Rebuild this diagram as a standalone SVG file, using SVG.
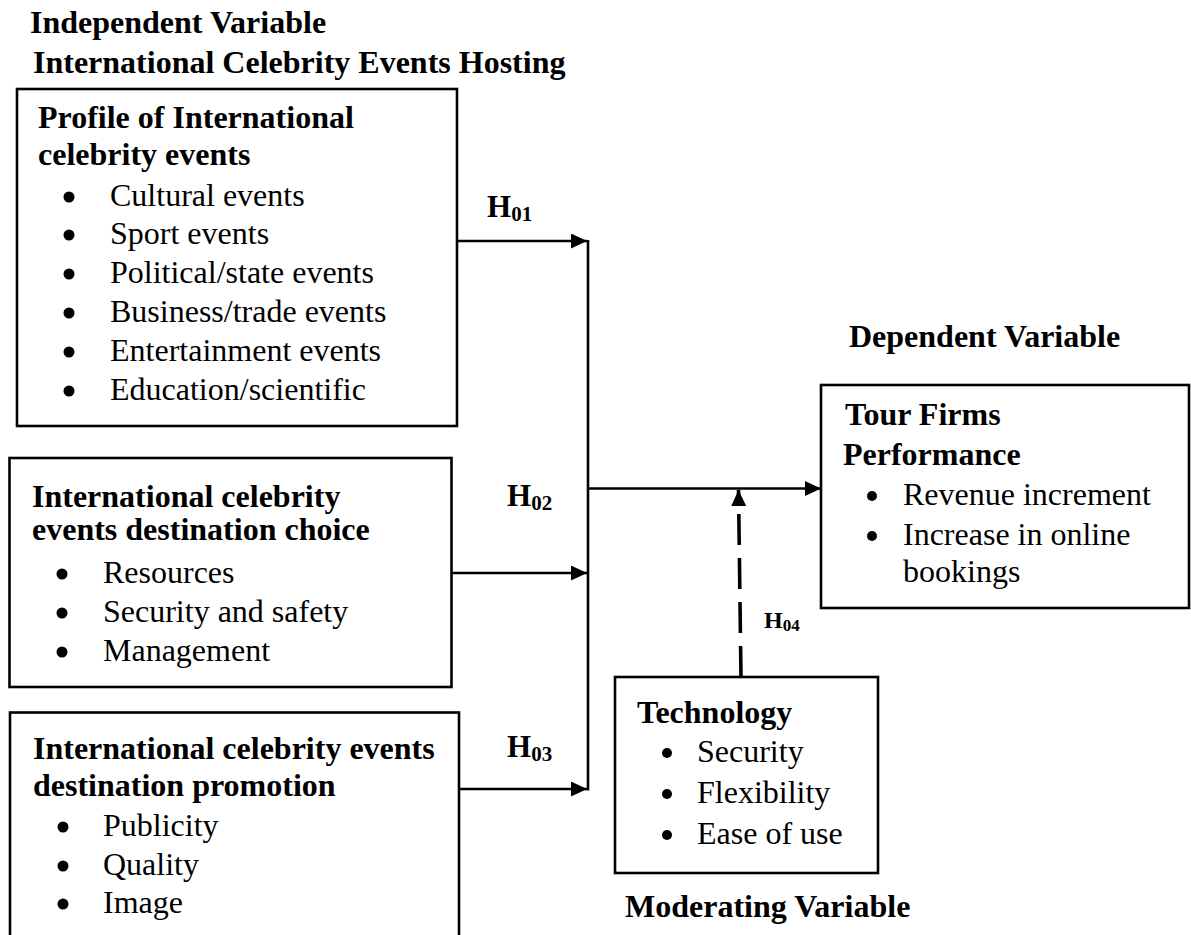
<svg xmlns="http://www.w3.org/2000/svg" width="1191" height="935" viewBox="0 0 1191 935">
<style>
text{font-family:"Liberation Serif","Times New Roman",serif;fill:#000;font-size:32px}
.b{font-weight:bold}
.box{fill:none;stroke:#000;stroke-width:2.6}
.ln{fill:none;stroke:#000;stroke-width:2.6}
.dash{fill:none;stroke:#000;stroke-width:3.6;stroke-dasharray:31 13}
.h{font-weight:bold;font-size:31px}
.h4{font-weight:bold;font-size:24px}
.dot{fill:#000}
</style>
<defs>
<marker id="arr" markerUnits="userSpaceOnUse" markerWidth="16" markerHeight="15" refX="16" refY="7.5" orient="auto">
<path d="M0,0 L16,7.5 L0,15 z" fill="#000"/>
</marker>
</defs>
<g id="headers">
<text class="b" x="30" y="33">Independent Variable</text>
<text class="b" x="33" y="73">International Celebrity Events Hosting</text>
<text class="b" x="849" y="347">Dependent Variable</text>
<text class="b" x="625" y="917">Moderating Variable</text>
</g>
<g id="profile">
<rect class="box" x="17" y="89" width="440" height="337"/>
<text class="b" x="38" y="128">Profile of International</text>
<text class="b" x="38" y="165">celebrity events</text>
<circle class="dot" cx="69" cy="197" r="5.5"/><text x="110" y="206">Cultural events</text>
<circle class="dot" cx="69" cy="235" r="5.5"/><text x="110" y="244">Sport events</text>
<circle class="dot" cx="69" cy="274" r="5.5"/><text x="110" y="283">Political/state events</text>
<circle class="dot" cx="69" cy="313" r="5.5"/><text x="110" y="322">Business/trade events</text>
<circle class="dot" cx="69" cy="352" r="5.5"/><text x="110" y="361">Entertainment events</text>
<circle class="dot" cx="69" cy="391" r="5.5"/><text x="110" y="400">Education/scientific</text>
</g>
<g id="choice">
<rect class="box" x="9.5" y="458" width="442" height="229"/>
<text class="b" x="32" y="507">International celebrity</text>
<text class="b" x="32" y="540">events destination choice</text>
<circle class="dot" cx="62" cy="574" r="5.5"/><text x="103" y="583">Resources</text>
<circle class="dot" cx="62" cy="613" r="5.5"/><text x="103" y="622">Security and safety</text>
<circle class="dot" cx="62" cy="652" r="5.5"/><text x="103" y="661">Management</text>
</g>
<g id="promotion">
<rect class="box" x="10" y="712.5" width="449" height="240"/>
<text class="b" x="33" y="759">International celebrity events</text>
<text class="b" x="33" y="796">destination promotion</text>
<circle class="dot" cx="63" cy="827" r="5.5"/><text x="103" y="836">Publicity</text>
<circle class="dot" cx="63" cy="866" r="5.5"/><text x="103" y="875">Quality</text>
<circle class="dot" cx="63" cy="904" r="5.5"/><text x="103" y="913">Image</text>
</g>
<g id="performance">
<rect class="box" x="821" y="385" width="368" height="223"/>
<text class="b" x="845" y="425">Tour Firms</text>
<text class="b" x="843" y="465">Performance</text>
<circle class="dot" cx="872" cy="496" r="5"/><text x="903" y="505">Revenue increment</text>
<circle class="dot" cx="872" cy="536" r="5"/><text x="903" y="545">Increase in online</text>
<text x="903" y="582">bookings</text>
</g>
<g id="technology">
<rect class="box" x="615" y="677" width="263" height="196"/>
<text class="b" x="637" y="723">Technology</text>
<circle class="dot" cx="667" cy="753" r="5"/><text x="697" y="762">Security</text>
<circle class="dot" cx="667" cy="794" r="5"/><text x="697" y="803">Flexibility</text>
<circle class="dot" cx="667" cy="835" r="5"/><text x="697" y="844">Ease of use</text>
</g>
<g id="connectors">
<line class="ln" x1="457" y1="241" x2="587" y2="241" marker-end="url(#arr)"/>
<line class="ln" x1="451" y1="573" x2="587" y2="573" marker-end="url(#arr)"/>
<line class="ln" x1="460" y1="789" x2="587" y2="789" marker-end="url(#arr)"/>
<line class="ln" x1="588" y1="240" x2="588" y2="790.5"/>
<line class="ln" x1="588" y1="488.5" x2="821" y2="488.5" marker-end="url(#arr)"/>
<path class="dash" d="M741,677 L738.5,490" marker-end="url(#arr)"/>
<text class="h" x="487" y="217">H<tspan font-size="21" dy="4">01</tspan></text>
<text class="h" x="507" y="506">H<tspan font-size="21" dy="4">02</tspan></text>
<text class="h" x="507" y="757">H<tspan font-size="21" dy="4">03</tspan></text>
<text class="h4" x="764" y="628">H<tspan font-size="17" dy="3">04</tspan></text>
</g>
</svg>
